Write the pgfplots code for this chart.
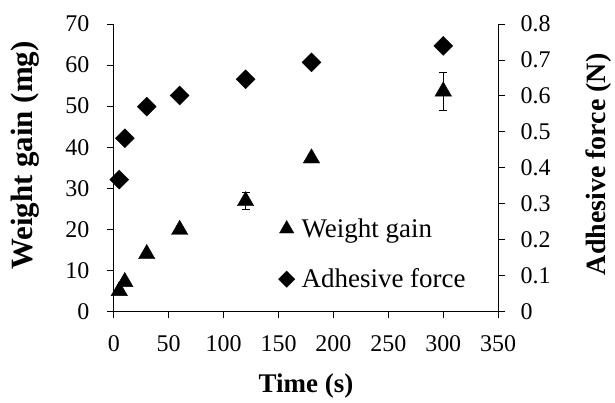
\documentclass[border=0pt]{standalone}
\usepackage{pgfplots}
\pgfplotsset{compat=1.18}
\usepackage{fontspec}
\setmainfont{Liberation Serif}
\begin{document}
\begin{tikzpicture}
\pgfplotsset{
  every axis/.append style={
    scale only axis, width=385pt, height=288pt,
    xmin=0, xmax=350,
    tick align=outside, major tick length=7pt,
    tick style={black, line width=0.8pt},
    axis line style={line width=1.3pt},
    tick label style={font=\fontsize{24}{24}\selectfont},
    label style={font=\fontsize{27}{27}\selectfont\bfseries},
    /pgf/number format/assume math mode=true,
  }
}
\begin{axis}[
  name=ax,
  axis y line*=left, axis x line*=bottom,
  ymin=0, ymax=70, ytick={0,10,...,70},
  xtick={0,50,...,350},
  yticklabel style={xshift=-14pt},
  xticklabel style={yshift=-14pt},
  xlabel={Time (s)}, ylabel={Weight gain (mg)},
  xlabel style={at={(rel axis cs:0.5,-0.26)}, anchor=center},
  ylabel style={at={(rel axis cs:-0.231,0.542)}, anchor=center, rotate=0,
    font=\fontsize{31}{31}\selectfont\bfseries},
]
\addplot[only marks, mark=triangle*, mark size=9.5pt, black,
  error bars/.cd, y dir=both, y explicit, error bar style={line width=0.6pt}, error mark options={rotate=90, mark size=4pt, line width=0.6pt}]
  coordinates {
  (5,5.0) +- (0,0)
  (10,7.2) +- (0,0)
  (30,14.0) +- (0,0)
  (60,19.9) +- (0,0)
  (120,26.9) +- (0,2.1)
  (180,37.3) +- (0,0)
  (300,53.6) +- (0,4.7)
};
\end{axis}
\begin{axis}[
  axis y line*=right, axis x line=none,
  ymin=0, ymax=0.8, ytick={0,0.1,...,0.8},
  yticklabel style={/pgf/number format/fixed, /pgf/number format/precision=1, xshift=12pt},
  ylabel={Adhesive force (N)},
  ylabel style={at={(rel axis cs:1.262,0.512)}, anchor=center, rotate=0,
    font=\fontsize{28}{28}\selectfont\bfseries},
  legend style={draw=none, fill=none, at={(rel axis cs:0.428,0.33)}, anchor=north west,
    font=\fontsize{27}{27}\selectfont, row sep=26pt, inner sep=0pt,
    legend cell align=left},
  legend image code/.code={\path[draw=none,fill=none] (-8pt,0) -- (13pt,0); \draw[#1] plot coordinates {(0pt,0pt)};},
]
\addlegendimage{only marks, mark=triangle*, mark size=8.3pt, black}
\addlegendentry{Weight gain}
\addplot[only marks, mark=square*, mark options={rotate=45}, mark size=6.7pt, black,
  forget plot] coordinates {
  (5,0.367) (10,0.482) (30,0.570) (60,0.601) (120,0.646) (180,0.693) (300,0.739)
};
\addlegendimage{only marks, mark=square*, mark options={rotate=45}, mark size=5.8pt, black}
\addlegendentry{Adhesive force}
\end{axis}
\path ([xshift=-114pt,yshift=-91pt]ax.south west) rectangle ([xshift=116pt,yshift=24pt]ax.north east);
\end{tikzpicture}
\end{document}
